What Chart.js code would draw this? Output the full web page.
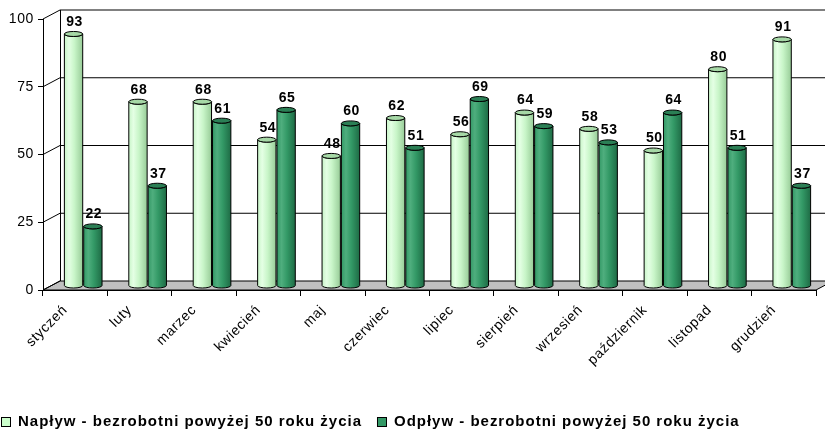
<!DOCTYPE html>
<html>
<head>
<meta charset="utf-8">
<script src="https://cdn.jsdelivr.net/npm/chart.js@4/dist/chart.umd.min.js"></script>
<style>
  html, body { margin: 0; padding: 0; background: #fff; }
  #wrap { width: 825px; height: 430px; }
</style>
</head>
<body>
<div id="wrap"><canvas id="chart"></canvas></div>
<script>
const months = ['styczeń', 'luty', 'marzec', 'kwiecień', 'maj', 'czerwiec',
  'lipiec', 'sierpień', 'wrzesień', 'październik', 'listopad', 'grudzień'];
const naplyw = [93, 68, 68, 54, 48, 62, 56, 64, 58, 50, 80, 91];
const odplyw = [22, 37, 61, 65, 60, 51, 69, 59, 53, 64, 51, 37];
const seriesNames = ['Napływ - bezrobotni powyżej 50 roku życia', 'Odpływ - bezrobotni powyżej 50 roku życia'];

const FONT = '"Liberation Sans", Arial, sans-serif';
// depth of the fake 3d box
const DX = 17, DY = 9;

const shades = [
  { left: '#e4ffe4', mid: '#c8f5c8', right: '#98cc98', top: '#a6d8a6', flat: '#ccffcc' },
  { left: '#4fae7e', mid: '#339966', right: '#1e6b45', top: '#2b7f55', flat: '#339966' }
];

function cylinder(ctx, x, top, base, w, s) {
  const l = x - w / 2, r = x + w / 2, ry = 2.5;
  const g = ctx.createLinearGradient(l, 0, r, 0);
  g.addColorStop(0, s.mid);
  g.addColorStop(0.25, s.left);
  g.addColorStop(0.55, s.mid);
  g.addColorStop(1, s.right);
  ctx.beginPath();
  ctx.moveTo(l, top);
  ctx.lineTo(l, base);
  ctx.ellipse(x, base, w / 2, ry, 0, Math.PI, 0, true);
  ctx.lineTo(r, top);
  ctx.ellipse(x, top, w / 2, ry, 0, 0, Math.PI, false);
  ctx.closePath();
  ctx.fillStyle = g;
  ctx.fill();
  ctx.lineWidth = 1;
  ctx.strokeStyle = '#000';
  ctx.stroke();
  ctx.beginPath();
  ctx.ellipse(x, top, w / 2, ry, 0, 0, Math.PI * 2);
  ctx.fillStyle = s.top;
  ctx.fill();
  ctx.stroke();
}

const box3d = {
  id: 'box3d',
  beforeLayout(chart) {
    chart.ctx.letterSpacing = '0.6px';
  },
  beforeDraw(chart) {
    const { ctx, chartArea: a, scales } = chart;
    ctx.letterSpacing = '0.6px';
    const y = scales.y;
    ctx.save();
    // floor
    ctx.beginPath();
    ctx.moveTo(a.left, a.bottom);
    ctx.lineTo(a.right, a.bottom);
    ctx.lineTo(a.right + DX, a.bottom - DY);
    ctx.lineTo(a.left + DX, a.bottom - DY);
    ctx.closePath();
    ctx.fillStyle = '#c0c0c0';
    ctx.fill();
    ctx.strokeStyle = '#000';
    ctx.lineWidth = 1;
    ctx.stroke();
    // back wall lines
    y.ticks.forEach(t => {
      const py = y.getPixelForValue(t.value);
      ctx.beginPath();
      ctx.moveTo(a.left, py);
      ctx.lineTo(a.left + DX, py - DY);
      ctx.strokeStyle = '#000';
      ctx.lineWidth = 1;
      ctx.stroke();
      if (t.value > 0) {
        ctx.beginPath();
        ctx.moveTo(a.left + DX, py - DY);
        ctx.lineTo(a.right + DX, py - DY);
        ctx.strokeStyle = t.value === 100 ? '#808080' : '#000';
        ctx.lineWidth = t.value === 100 ? 2 : 1;
        ctx.stroke();
      }
    });
    ctx.beginPath();
    ctx.moveTo(a.left + DX + 0.5, y.getPixelForValue(100) - DY);
    ctx.lineTo(a.left + DX + 0.5, a.bottom - DY);
    ctx.strokeStyle = '#000';
    ctx.lineWidth = 1;
    ctx.stroke();
    ctx.restore();
  },
  beforeDatasetDraw() {
    return false;
  },
  afterDatasetsDraw(chart) {
    const ctx = chart.ctx;
    ctx.save();
    ctx.translate(8, -4);
    const metas = [chart.getDatasetMeta(0), chart.getDatasetMeta(1)];
    for (let i = 0; i < months.length; i++) {
      metas.forEach((m, d) => {
        const b = m.data[i].getProps(['x', 'y', 'base', 'width'], true);
        cylinder(ctx, b.x, b.y, b.base, b.width - 1, shades[d]);
      });
    }
    ctx.font = 'bold 14px ' + FONT;
    ctx.fillStyle = '#000';
    ctx.textAlign = 'center';
    ctx.textBaseline = 'bottom';
    metas.forEach((m, d) => {
      m.data.forEach((el, i) => {
        const b = el.getProps(['x', 'y'], true);
        const v = chart.data.datasets[d].data[i];
        ctx.fillText(String(v), b.x + 1, b.y - 5);
      });
    });
    ctx.restore();
  },
  afterDraw(chart) {
    // legend row along the bottom
    const ctx = chart.ctx;
    ctx.save();
    ctx.font = 'bold 15px ' + FONT;
    ctx.letterSpacing = '0px';
    const w0 = ctx.measureText(seriesNames[0]).width;
    const sp = Math.max(0, (344 - w0) / seriesNames[0].length);
    ctx.letterSpacing = sp.toFixed(2) + 'px';
    ctx.textBaseline = 'middle';
    ctx.fillStyle = '#000';
    let x = 1;
    const cy = 422;
    chart.data.datasets.forEach((ds, d) => {
      ctx.fillStyle = shades[d].flat;
      ctx.fillRect(x + 0.5, cy - 4.5, 9, 9);
      ctx.strokeStyle = '#000';
      ctx.lineWidth = 1;
      ctx.strokeRect(x + 0.5, cy - 4.5, 9, 9);
      ctx.fillStyle = '#000';
      ctx.fillText(ds.label, x + 17, cy);
      x += 17 + ctx.measureText(ds.label).width + 15;
    });
    ctx.restore();
  }
};

new Chart(document.getElementById('chart'), {
  type: 'bar',
  data: {
    labels: months,
    datasets: [
      {
        label: seriesNames[0],
        data: naplyw,
        backgroundColor: '#ccffcc',
        borderColor: '#000',
        borderWidth: 1,
        categoryPercentage: 0.6,
        barPercentage: 1.0
      },
      {
        label: seriesNames[1],
        data: odplyw,
        backgroundColor: '#339966',
        borderColor: '#000',
        borderWidth: 1,
        categoryPercentage: 0.6,
        barPercentage: 1.0
      }
    ]
  },
  options: {
    responsive: true,
    maintainAspectRatio: false,
    animation: false,
    layout: { padding: { top: 19, right: 9, left: 0, bottom: 40 } },
    scales: {
      x: {
        grid: { drawOnChartArea: false, color: '#000', tickLength: 6, offset: true },
        border: { color: '#000', width: 1 },
        ticks: {
          color: '#000',
          minRotation: 45,
          maxRotation: 45,
          padding: 6,
          labelOffset: -10,
          font: { family: FONT, size: 14 }
        },
        afterFit(s) { s.height = 100; }
      },
      y: {
        min: 0,
        max: 100,
        grid: { drawOnChartArea: false, color: '#000', tickLength: 5 },
        border: { color: '#000', width: 1 },
        ticks: {
          stepSize: 25,
          color: '#000',
          padding: 4,
          font: { family: FONT, size: 14 }
        },
        afterFit(s) { s.width = 43; }
      }
    },
    plugins: {
      legend: { display: false },
      tooltip: { enabled: false }
    }
  },
  plugins: [box3d]
});
</script>
</body>
</html>
